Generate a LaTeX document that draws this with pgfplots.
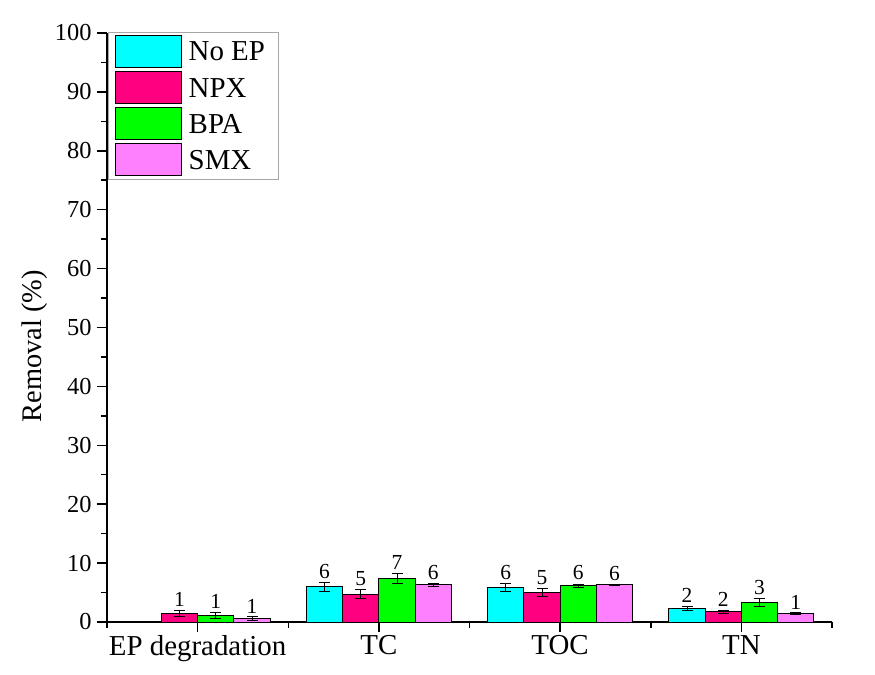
\documentclass[border=0pt]{standalone}
\usepackage{pgfplots}
\pgfplotsset{compat=1.18}
\usepackage{pgfplotstable}
\usepackage{fontspec}
\setmainfont{Liberation Serif}

\definecolor{noep}{RGB}{0,255,255}
\definecolor{npx}{RGB}{255,0,128}
\definecolor{bpa}{RGB}{0,255,0}
\definecolor{smx}{RGB}{255,128,255}

% x: 0 = EP degradation, 1 = TC, 2 = TOC, 3 = TN; y = removal (%), e = error
\pgfplotstableread{
x y e
1 5.95 0.75
2 5.85 0.75
3 2.30 0.30
}\noep
\pgfplotstableread{
x y e
0 1.45 0.50
1 4.75 0.75
2 5.05 0.70
3 1.70 0.30
}\npx
\pgfplotstableread{
x y e
0 1.15 0.50
1 7.35 0.85
2 6.15 0.30
3 3.30 0.75
}\bpa
\pgfplotstableread{
x y e
0 0.55 0.30
1 6.30 0.25
2 6.30 0.10
3 1.45 0.10
}\smx

\begin{document}
\begin{tikzpicture}
\path[use as bounding box] (0,0) rectangle (875bp,675bp);
\begin{axis}[
  at={(107bp,53bp)}, anchor=south west,
  scale only axis, width=725bp, height=589bp,
  xmin=-0.5, xmax=3.5, ymin=0, ymax=100,
  axis x line*=bottom, axis y line*=left,
  axis line style={line width=1.5bp, black},
  ybar=0pt, bar width=0.2,
  xtick={0,1,2,3},
  xticklabels={EP degradation,TC,TOC,TN},
  minor xtick={-0.5,0.5,1.5,2.5,3.5},
  ytick distance=10, minor y tick num=1,
  tick align=outside,
  major tick length=10bp, minor tick length=6bp,
  tick style={line width=1.5bp, black},
  xticklabel style={font=\fontsize{29}{34}\selectfont},
  yticklabel style={font=\fontsize{24.5}{29}\selectfont, xshift=-2bp},
  /pgf/number format/assume math mode=true,
  ylabel={Removal (\%)},
  ylabel style={font=\fontsize{28.5}{34}\selectfont, at={(ticklabel cs:0.468)}},
  error bars/y dir=both,
  error bars/y explicit,
  error bars/error mark=-,
  error bars/error bar style={line width=1bp, black},
  error bars/error mark options={rotate=90, line width=1bp, black, mark size=5.5bp},
  visualization depends on={\thisrow{e}\as\myerr},
  nodes near coords={\fontsize{21.5}{25}\selectfont\pgfmathprintnumber[fixed,precision=0,assume math mode=true]{\pgfplotspointmeta}},
  every node near coord/.append style={anchor=south, yshift=5.89bp*\myerr, black},
  legend image code/.code={\draw[#1] (0bp,-15.4bp) rectangle (66bp,16.6bp);},
  legend cell align=left,
  legend style={at={(rel axis cs:0.002,1.002)}, anchor=north west,
    draw=gray!70, line width=0.6bp, font=\fontsize{29}{34}\selectfont,
    row sep=3.1bp, inner xsep=6bp, inner ysep=3bp,
    nodes={inner xsep=7bp, inner ysep=1bp}},
]
\addplot[fill=noep, draw=black, line width=1bp] table[x=x, y=y, y error=e] {\noep};
\addlegendentry{No EP}
\addplot[fill=npx, draw=black, line width=1bp] table[x=x, y=y, y error=e] {\npx};
\addlegendentry{NPX}
\addplot[fill=bpa, draw=black, line width=1bp] table[x=x, y=y, y error=e] {\bpa};
\addlegendentry{BPA}
\addplot[fill=smx, draw=black, line width=1bp] table[x=x, y=y, y error=e] {\smx};
\addlegendentry{SMX}
\end{axis}
\end{tikzpicture}
\end{document}
